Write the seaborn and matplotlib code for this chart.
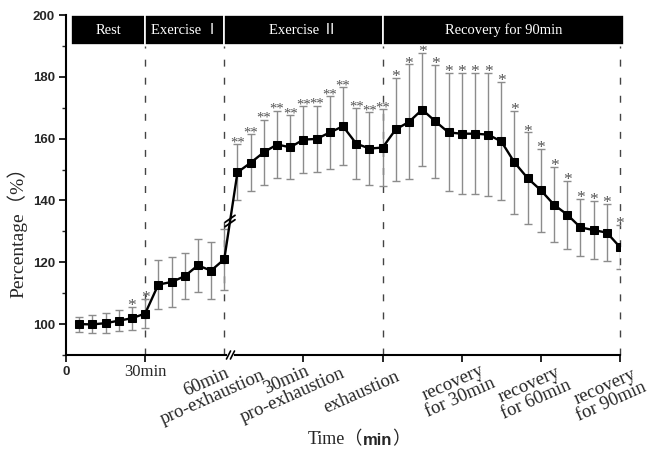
import numpy as np
import pandas as pd
import matplotlib
matplotlib.use("Agg")
import matplotlib.pyplot as plt
import seaborn as sns
from matplotlib.patches import Rectangle
from matplotlib.lines import Line2D
from matplotlib.transforms import IdentityTransform
from matplotlib.offsetbox import TextArea, HPacker, AnnotationBbox
from matplotlib.ticker import FixedLocator

# ---------------- data ----------------
time_min = [5, 10, 15, 20, 25, 30, 35, 40, 45, 50, 55, 60,
            65, 70, 75, 80, 85, 90, 95, 100, 105, 110, 115, 120,
            125, 130, 135, 140, 145, 150, 155, 160, 165, 170, 175, 180,
            185, 190, 195, 200, 205, 210]
mean_pct = [100.0, 99.9, 100.3, 101.1, 101.9, 103.4, 112.8, 113.6, 115.5, 119.0, 117.3, 121.0,
            149.1, 152.2, 155.6, 158.1, 157.2, 159.7, 159.9, 162.0, 164.0, 158.4, 156.8, 157.1,
            163.0, 165.4, 169.4, 165.6, 162.0, 161.6, 161.6, 161.3, 159.1, 152.3, 147.2, 143.3,
            138.6, 135.4, 131.3, 130.4, 129.6, 124.9]
sd_pct = [2.4, 2.9, 3.2, 3.4, 3.7, 4.6, 7.8, 8.1, 7.4, 8.6, 9.3, 9.9,
          9.1, 9.2, 10.5, 10.9, 10.4, 10.9, 10.8, 11.7, 12.6, 11.4, 11.7, 12.4,
          16.6, 18.6, 18.2, 18.3, 19.1, 19.5, 19.6, 19.9, 19.1, 16.7, 14.8, 13.5,
          12.1, 11.0, 9.3, 9.4, 9.2, 7.2]
signif = ["", "", "", "", "*", "*", "", "", "", "", "", "",
          "**", "**", "**", "**", "**", "**", "**", "**", "**", "**", "**", "**",
          "*", "*", "*", "*", "*", "*", "*", "*", "*", "*", "*", "*",
          "*", "*", "*", "*", "*", "*"]

phase_names = ["Rest", "Exercise Ⅰ", "Exercise Ⅱ", "Recovery for 90min"]
phase_edges = [2, 30, 60, 120, 211.5]
phase_lines = [30, 60, 120, 210]

xtick_pos = [0, 30, 60, 90, 120, 150, 180, 210]
xtick_labels = ["0", "30min", "60min\npro-exhaustion", "30min\npro-exhaustion", "exhaustion",
                "recovery\nfor 30min", "recovery\nfor 60min", "recovery\nfor 90min"]
yticks = [100, 120, 140, 160, 180, 200]

df = pd.DataFrame({"time": time_min, "mean": mean_pct, "sd": sd_pct})

# ---------------- style ----------------
sns.set_style("ticks")
SERIF = ["Liberation Serif", "Noto Sans CJK SC"]
SANS = ["Liberation Sans", "DejaVu Sans"]
plt.rcParams["font.family"] = SERIF

W, H = 651, 455
fig = plt.figure(figsize=(W / 100, H / 100), dpi=100)
ax = fig.add_axes([66 / W, 1 - 355 / H, 554 / W, 340 / H])

ax.errorbar(df["time"], df["mean"], yerr=df["sd"], fmt="none", ecolor="#8c8c8c",
            elinewidth=1.0, capsize=2.8, capthick=1.0, zorder=2)
sns.lineplot(data=df, x="time", y="mean", ax=ax, color="black", linewidth=1.7,
             marker="s", markersize=5.2, markeredgecolor="black", markerfacecolor="black",
             errorbar=None, zorder=4)

for t, m, s, g in zip(time_min, mean_pct, sd_pct, signif):
    if g:
        fs = 12.5 if len(g) == 1 else 10.5
        ax.annotate(g, xy=(t, m + s), xytext=(0, -2.2 if len(g) == 1 else -1.6),
                    textcoords="offset points",
                    ha="center", va="baseline", fontsize=fs, color="#555555",
                    family=SERIF, zorder=5, annotation_clip=False)

ax.set_xlim(0, 210)
ax.set_ylim(90, 200)
ax.set_xticks([0, 30, 90, 120, 150, 180, 210])
ax.set_xticklabels([])
ax.set_yticks(yticks)
ax.set_yticklabels([str(v) for v in yticks], fontweight="bold", family=SANS, fontsize=9.5)
ax.yaxis.set_minor_locator(FixedLocator([90, 110, 130, 150, 170, 190]))
ax.tick_params(axis="both", which="major", direction="out", length=5, width=1.2,
               color="black", pad=3)
ax.tick_params(axis="y", which="minor", direction="out", length=3, width=1.0)
for sp in ["top", "right"]:
    ax.spines[sp].set_visible(False)
for sp in ["left", "bottom"]:
    ax.spines[sp].set_linewidth(1.5)
    ax.spines[sp].set_color("black")
ax.set_xlabel("")
ax.set_ylabel("")

# phase dashed lines
for x in phase_lines:
    ax.plot([x, x], [90, 190], color="#444444", lw=1.0, ls=(0, (5, 8)), zorder=1,
            clip_on=False)

# phase banner
for i, name in enumerate(phase_names):
    a, b = phase_edges[i], phase_edges[i + 1]
    ax.add_patch(Rectangle((a, 190.2), b - a, 9.8, facecolor="black", edgecolor="white",
                           lw=1.2, clip_on=False, zorder=6))
    ax.text((a + b) / 2, 195.1, name, color="white", ha="center", va="center",
            fontsize=10.5, family=SERIF, zorder=7, clip_on=False)

# x tick labels
px2pt = 0.72
offsets = {0: (0, -17), 30: (0, -17), 60: (-15, -35), 90: (-14, -33), 120: (-21, -37),
           150: (-5, -35), 180: (-8, -37), 210: (-12, -39)}
for pos, lab in zip(xtick_pos, xtick_labels):
    dx, dy = offsets[pos]
    if pos == 0:
        kw = dict(fontsize=9.5, fontweight="bold", family=SANS, rotation=0)
    elif pos == 30:
        kw = dict(fontsize=12, family=SERIF, rotation=0)
    else:
        kw = dict(fontsize=13.5, family=SERIF, rotation=24, rotation_mode="anchor",
                  multialignment="center", linespacing=0.95)
    ax.annotate(lab, xy=(pos, 0), xycoords=("data", "axes fraction"),
                xytext=(dx * px2pt, dy * px2pt), textcoords="offset points",
                ha="center", va="center", annotation_clip=False, **kw)

# axis labels
fig.text(17 / W, 1 - 228 / H, "Percentage（%）", rotation=90, ha="center", va="center",
         fontsize=14, family=SERIF)
parts = HPacker(children=[
    TextArea("Time（", textprops=dict(fontsize=13, family=SERIF)),
    TextArea("min", textprops=dict(fontsize=12, family=SANS, fontweight="bold")),
    TextArea("）", textprops=dict(fontsize=13, family=SERIF)),
], align="baseline", pad=0, sep=0)
ab = AnnotationBbox(parts, (359 / W, 1 - 440 / H), xycoords="figure fraction",
                    frameon=False, box_alignment=(0.5, 0.5))
fig.add_artist(ab)

# break marks
fig.canvas.draw()
tb = 62.2
yb = float(np.interp(tb, time_min, mean_pct))
px, py = ax.transData.transform((tb, yb))
ang = np.deg2rad(35)
hl = 6
for off in (-2.2, 2.2):
    cx, cy = px, py + off
    fig.add_artist(Line2D([cx - hl * np.cos(ang), cx + hl * np.cos(ang)],
                          [cy - hl * np.sin(ang), cy + hl * np.sin(ang)],
                          transform=IdentityTransform(), color="black", lw=1.3, zorder=10))
# axis break
x0 = ax.transData.transform((61.6, 90))[0]
x1 = ax.transData.transform((63.1, 90))[0]
ybot = ax.transAxes.transform((0, 0))[1]
fig.add_artist(Line2D([x0, x1], [ybot, ybot], transform=IdentityTransform(),
                      color="white", lw=3, zorder=9))
ang2 = np.deg2rad(63)
hl2 = 4.5
for cx in (x0, x1):
    fig.add_artist(Line2D([cx - hl2 * np.cos(ang2), cx + hl2 * np.cos(ang2)],
                          [ybot - hl2 * np.sin(ang2), ybot + hl2 * np.sin(ang2)],
                          transform=IdentityTransform(), color="black", lw=1.2, zorder=10))

fig.savefig("out.png", dpi=100)
